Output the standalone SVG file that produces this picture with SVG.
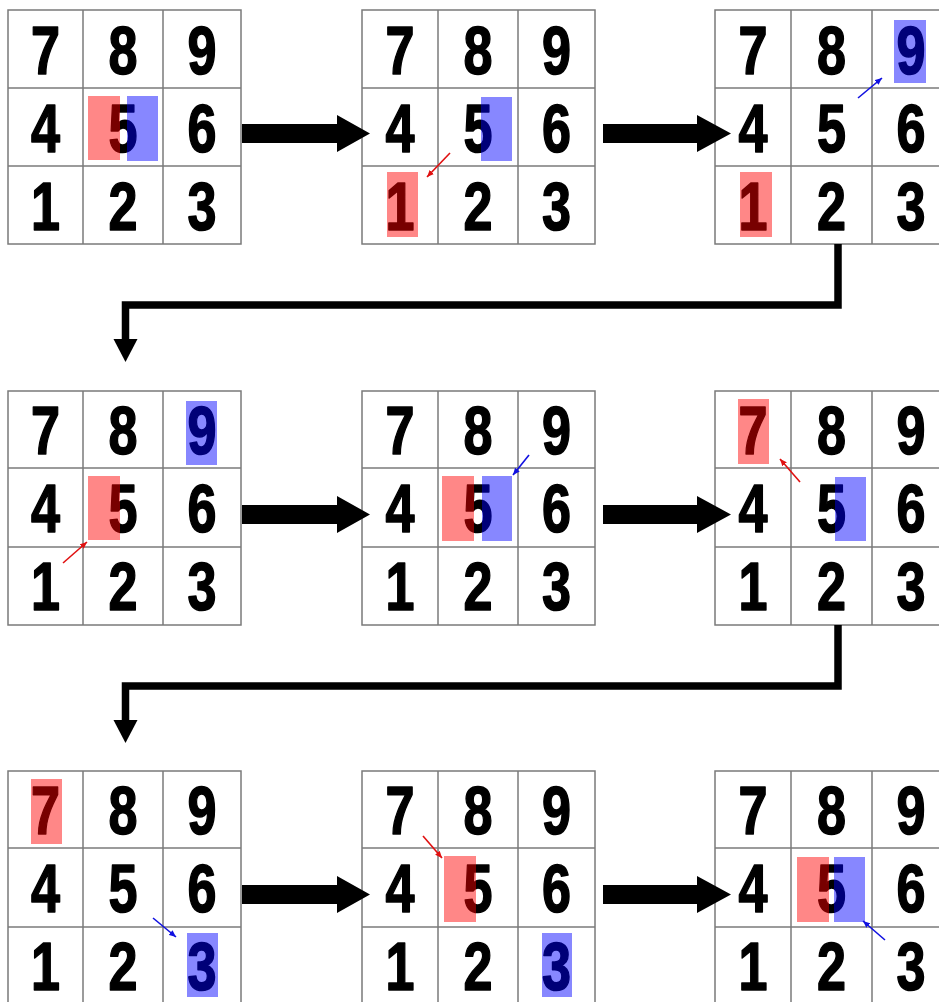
<svg xmlns="http://www.w3.org/2000/svg" width="939" height="1002" viewBox="0 0 939 1002">
<style>
.bg{fill:#fff}
.frame{fill:#fff;stroke:#7a7a7a;stroke-width:1.5}
.ln{stroke:#7a7a7a;stroke-width:1.5}
.d{font-family:"Liberation Sans",Arial,sans-serif;font-weight:bold;font-size:68px;text-anchor:middle;fill:#000;stroke:#000;stroke-width:1.6;stroke-linejoin:round}
.r{fill:#ff0000;opacity:0.47}
.b{fill:#0000ff;opacity:0.47}
.ra{stroke:#e01010;stroke-width:1.6;fill:none;marker-end:url(#mr)}
.ba{stroke:#1010e0;stroke-width:1.6;fill:none;marker-end:url(#mb)}
.blk{fill:#000}
.elb{fill:none;stroke:#000;stroke-width:7.5;stroke-linejoin:miter}
</style>
<defs>
<marker id="mr" markerUnits="userSpaceOnUse" markerWidth="7" markerHeight="6" refX="7" refY="3" orient="auto"><path d="M0,0 L7,3 L0,6 z" fill="#e01010"/></marker>
<marker id="mb" markerUnits="userSpaceOnUse" markerWidth="7" markerHeight="6" refX="7" refY="3" orient="auto"><path d="M0,0 L7,3 L0,6 z" fill="#1010e0"/></marker>
</defs>
<rect class="bg" x="0" y="0" width="939" height="1002"/>

<g id="grid1">
<rect class="frame" x="8" y="10" width="233" height="234"/>
<line class="ln" x1="83" y1="10" x2="83" y2="244"/><line class="ln" x1="163" y1="10" x2="163" y2="244"/>
<line class="ln" x1="8" y1="88" x2="241" y2="88"/><line class="ln" x1="8" y1="166" x2="241" y2="166"/>
<text class="d" x="45.5" y="74" textLength="29" lengthAdjust="spacingAndGlyphs">7</text>
<text class="d" x="123" y="74" textLength="29" lengthAdjust="spacingAndGlyphs">8</text>
<text class="d" x="202" y="74" textLength="29" lengthAdjust="spacingAndGlyphs">9</text>
<text class="d" x="45.5" y="152" textLength="29" lengthAdjust="spacingAndGlyphs">4</text>
<text class="d" x="123" y="152" textLength="29" lengthAdjust="spacingAndGlyphs">5</text>
<text class="d" x="202" y="152" textLength="29" lengthAdjust="spacingAndGlyphs">6</text>
<text class="d" x="45.5" y="230" textLength="29" lengthAdjust="spacingAndGlyphs">1</text>
<text class="d" x="123" y="230" textLength="29" lengthAdjust="spacingAndGlyphs">2</text>
<text class="d" x="202" y="230" textLength="29" lengthAdjust="spacingAndGlyphs">3</text>
<rect class="r" x="88" y="96" width="32" height="64"/>
<rect class="b" x="127" y="96" width="31" height="65"/>
</g>

<g id="grid2">
<rect class="frame" x="362" y="10" width="233" height="234"/>
<line class="ln" x1="438" y1="10" x2="438" y2="244"/><line class="ln" x1="518" y1="10" x2="518" y2="244"/>
<line class="ln" x1="362" y1="88" x2="595" y2="88"/><line class="ln" x1="362" y1="166" x2="595" y2="166"/>
<text class="d" x="400" y="74" textLength="29" lengthAdjust="spacingAndGlyphs">7</text>
<text class="d" x="478" y="74" textLength="29" lengthAdjust="spacingAndGlyphs">8</text>
<text class="d" x="556.5" y="74" textLength="29" lengthAdjust="spacingAndGlyphs">9</text>
<text class="d" x="400" y="152" textLength="29" lengthAdjust="spacingAndGlyphs">4</text>
<text class="d" x="478" y="152" textLength="29" lengthAdjust="spacingAndGlyphs">5</text>
<text class="d" x="556.5" y="152" textLength="29" lengthAdjust="spacingAndGlyphs">6</text>
<text class="d" x="400" y="230" textLength="29" lengthAdjust="spacingAndGlyphs">1</text>
<text class="d" x="478" y="230" textLength="29" lengthAdjust="spacingAndGlyphs">2</text>
<text class="d" x="556.5" y="230" textLength="29" lengthAdjust="spacingAndGlyphs">3</text>
<rect class="b" x="481" y="97" width="31" height="64"/>
<rect class="r" x="387" y="172" width="31" height="65"/>
<line class="ra" x1="450" y1="153" x2="427" y2="177"/>
</g>

<g id="grid3">
<rect class="frame" x="715" y="10" width="235" height="234"/>
<line class="ln" x1="791" y1="10" x2="791" y2="244"/><line class="ln" x1="872" y1="10" x2="872" y2="244"/>
<line class="ln" x1="715" y1="88" x2="950" y2="88"/><line class="ln" x1="715" y1="166" x2="950" y2="166"/>
<text class="d" x="753" y="74" textLength="29" lengthAdjust="spacingAndGlyphs">7</text>
<text class="d" x="831.5" y="74" textLength="29" lengthAdjust="spacingAndGlyphs">8</text>
<text class="d" x="911" y="74" textLength="29" lengthAdjust="spacingAndGlyphs">9</text>
<text class="d" x="753" y="152" textLength="29" lengthAdjust="spacingAndGlyphs">4</text>
<text class="d" x="831.5" y="152" textLength="29" lengthAdjust="spacingAndGlyphs">5</text>
<text class="d" x="911" y="152" textLength="29" lengthAdjust="spacingAndGlyphs">6</text>
<text class="d" x="753" y="230" textLength="29" lengthAdjust="spacingAndGlyphs">1</text>
<text class="d" x="831.5" y="230" textLength="29" lengthAdjust="spacingAndGlyphs">2</text>
<text class="d" x="911" y="230" textLength="29" lengthAdjust="spacingAndGlyphs">3</text>
<rect class="b" x="894" y="20" width="32" height="63"/>
<rect class="r" x="740" y="172" width="32" height="65"/>
<line class="ba" x1="858" y1="98" x2="882" y2="78"/>
</g>

<g id="grid4">
<rect class="frame" x="8" y="391" width="233" height="234"/>
<line class="ln" x1="83" y1="391" x2="83" y2="625"/><line class="ln" x1="163" y1="391" x2="163" y2="625"/>
<line class="ln" x1="8" y1="468" x2="241" y2="468"/><line class="ln" x1="8" y1="547" x2="241" y2="547"/>
<text class="d" x="45.5" y="454" textLength="29" lengthAdjust="spacingAndGlyphs">7</text>
<text class="d" x="123" y="454" textLength="29" lengthAdjust="spacingAndGlyphs">8</text>
<text class="d" x="202" y="454" textLength="29" lengthAdjust="spacingAndGlyphs">9</text>
<text class="d" x="45.5" y="532" textLength="29" lengthAdjust="spacingAndGlyphs">4</text>
<text class="d" x="123" y="532" textLength="29" lengthAdjust="spacingAndGlyphs">5</text>
<text class="d" x="202" y="532" textLength="29" lengthAdjust="spacingAndGlyphs">6</text>
<text class="d" x="45.5" y="610" textLength="29" lengthAdjust="spacingAndGlyphs">1</text>
<text class="d" x="123" y="610" textLength="29" lengthAdjust="spacingAndGlyphs">2</text>
<text class="d" x="202" y="610" textLength="29" lengthAdjust="spacingAndGlyphs">3</text>
<rect class="b" x="186" y="401" width="31" height="64"/>
<rect class="r" x="88" y="476" width="32" height="64"/>
<line class="ra" x1="63" y1="563" x2="87" y2="542"/>
</g>

<g id="grid5">
<rect class="frame" x="362" y="391" width="233" height="234"/>
<line class="ln" x1="438" y1="391" x2="438" y2="625"/><line class="ln" x1="518" y1="391" x2="518" y2="625"/>
<line class="ln" x1="362" y1="468" x2="595" y2="468"/><line class="ln" x1="362" y1="547" x2="595" y2="547"/>
<text class="d" x="400" y="454" textLength="29" lengthAdjust="spacingAndGlyphs">7</text>
<text class="d" x="478" y="454" textLength="29" lengthAdjust="spacingAndGlyphs">8</text>
<text class="d" x="556.5" y="454" textLength="29" lengthAdjust="spacingAndGlyphs">9</text>
<text class="d" x="400" y="532" textLength="29" lengthAdjust="spacingAndGlyphs">4</text>
<text class="d" x="478" y="532" textLength="29" lengthAdjust="spacingAndGlyphs">5</text>
<text class="d" x="556.5" y="532" textLength="29" lengthAdjust="spacingAndGlyphs">6</text>
<text class="d" x="400" y="610" textLength="29" lengthAdjust="spacingAndGlyphs">1</text>
<text class="d" x="478" y="610" textLength="29" lengthAdjust="spacingAndGlyphs">2</text>
<text class="d" x="556.5" y="610" textLength="29" lengthAdjust="spacingAndGlyphs">3</text>
<rect class="r" x="442" y="476" width="32" height="65"/>
<rect class="b" x="482" y="476" width="30" height="65"/>
<line class="ba" x1="529" y1="455" x2="513" y2="475"/>
</g>

<g id="grid6">
<rect class="frame" x="715" y="391" width="235" height="234"/>
<line class="ln" x1="791" y1="391" x2="791" y2="625"/><line class="ln" x1="872" y1="391" x2="872" y2="625"/>
<line class="ln" x1="715" y1="468" x2="950" y2="468"/><line class="ln" x1="715" y1="547" x2="950" y2="547"/>
<text class="d" x="753" y="454" textLength="29" lengthAdjust="spacingAndGlyphs">7</text>
<text class="d" x="831.5" y="454" textLength="29" lengthAdjust="spacingAndGlyphs">8</text>
<text class="d" x="911" y="454" textLength="29" lengthAdjust="spacingAndGlyphs">9</text>
<text class="d" x="753" y="532" textLength="29" lengthAdjust="spacingAndGlyphs">4</text>
<text class="d" x="831.5" y="532" textLength="29" lengthAdjust="spacingAndGlyphs">5</text>
<text class="d" x="911" y="532" textLength="29" lengthAdjust="spacingAndGlyphs">6</text>
<text class="d" x="753" y="610" textLength="29" lengthAdjust="spacingAndGlyphs">1</text>
<text class="d" x="831.5" y="610" textLength="29" lengthAdjust="spacingAndGlyphs">2</text>
<text class="d" x="911" y="610" textLength="29" lengthAdjust="spacingAndGlyphs">3</text>
<rect class="r" x="738" y="399" width="31" height="65"/>
<rect class="b" x="835" y="477" width="31" height="64"/>
<line class="ra" x1="800" y1="482" x2="780" y2="459"/>
</g>

<g id="grid7">
<rect class="frame" x="8" y="771" width="233" height="234"/>
<line class="ln" x1="83" y1="771" x2="83" y2="1005"/><line class="ln" x1="163" y1="771" x2="163" y2="1005"/>
<line class="ln" x1="8" y1="848" x2="241" y2="848"/><line class="ln" x1="8" y1="927" x2="241" y2="927"/>
<text class="d" x="45.5" y="834" textLength="29" lengthAdjust="spacingAndGlyphs">7</text>
<text class="d" x="123" y="834" textLength="29" lengthAdjust="spacingAndGlyphs">8</text>
<text class="d" x="202" y="834" textLength="29" lengthAdjust="spacingAndGlyphs">9</text>
<text class="d" x="45.5" y="912" textLength="29" lengthAdjust="spacingAndGlyphs">4</text>
<text class="d" x="123" y="912" textLength="29" lengthAdjust="spacingAndGlyphs">5</text>
<text class="d" x="202" y="912" textLength="29" lengthAdjust="spacingAndGlyphs">6</text>
<text class="d" x="45.5" y="990" textLength="29" lengthAdjust="spacingAndGlyphs">1</text>
<text class="d" x="123" y="990" textLength="29" lengthAdjust="spacingAndGlyphs">2</text>
<text class="d" x="202" y="990" textLength="29" lengthAdjust="spacingAndGlyphs">3</text>
<rect class="r" x="31" y="779" width="31" height="65"/>
<rect class="b" x="187" y="933" width="31" height="64"/>
<line class="ba" x1="153" y1="918" x2="176" y2="937"/>
</g>

<g id="grid8">
<rect class="frame" x="362" y="771" width="233" height="234"/>
<line class="ln" x1="438" y1="771" x2="438" y2="1005"/><line class="ln" x1="518" y1="771" x2="518" y2="1005"/>
<line class="ln" x1="362" y1="848" x2="595" y2="848"/><line class="ln" x1="362" y1="927" x2="595" y2="927"/>
<text class="d" x="400" y="834" textLength="29" lengthAdjust="spacingAndGlyphs">7</text>
<text class="d" x="478" y="834" textLength="29" lengthAdjust="spacingAndGlyphs">8</text>
<text class="d" x="556.5" y="834" textLength="29" lengthAdjust="spacingAndGlyphs">9</text>
<text class="d" x="400" y="912" textLength="29" lengthAdjust="spacingAndGlyphs">4</text>
<text class="d" x="478" y="912" textLength="29" lengthAdjust="spacingAndGlyphs">5</text>
<text class="d" x="556.5" y="912" textLength="29" lengthAdjust="spacingAndGlyphs">6</text>
<text class="d" x="400" y="990" textLength="29" lengthAdjust="spacingAndGlyphs">1</text>
<text class="d" x="478" y="990" textLength="29" lengthAdjust="spacingAndGlyphs">2</text>
<text class="d" x="556.5" y="990" textLength="29" lengthAdjust="spacingAndGlyphs">3</text>
<rect class="r" x="444" y="856" width="32" height="66"/>
<rect class="b" x="542" y="933" width="30" height="64"/>
<line class="ra" x1="423" y1="836" x2="442" y2="858"/>
</g>

<g id="grid9">
<rect class="frame" x="715" y="771" width="235" height="234"/>
<line class="ln" x1="791" y1="771" x2="791" y2="1005"/><line class="ln" x1="872" y1="771" x2="872" y2="1005"/>
<line class="ln" x1="715" y1="848" x2="950" y2="848"/><line class="ln" x1="715" y1="927" x2="950" y2="927"/>
<text class="d" x="753" y="834" textLength="29" lengthAdjust="spacingAndGlyphs">7</text>
<text class="d" x="831.5" y="834" textLength="29" lengthAdjust="spacingAndGlyphs">8</text>
<text class="d" x="911" y="834" textLength="29" lengthAdjust="spacingAndGlyphs">9</text>
<text class="d" x="753" y="912" textLength="29" lengthAdjust="spacingAndGlyphs">4</text>
<text class="d" x="831.5" y="912" textLength="29" lengthAdjust="spacingAndGlyphs">5</text>
<text class="d" x="911" y="912" textLength="29" lengthAdjust="spacingAndGlyphs">6</text>
<text class="d" x="753" y="990" textLength="29" lengthAdjust="spacingAndGlyphs">1</text>
<text class="d" x="831.5" y="990" textLength="29" lengthAdjust="spacingAndGlyphs">2</text>
<text class="d" x="911" y="990" textLength="29" lengthAdjust="spacingAndGlyphs">3</text>
<rect class="r" x="797" y="857" width="32" height="65"/>
<rect class="b" x="834" y="857" width="31" height="65"/>
<line class="ba" x1="885" y1="940" x2="863" y2="921"/>
</g>

<g id="connectors">
<polygon class="blk" points="242,124 337,124 337,115 370,133.5 337,152 337,143 242,143"/>
<polygon class="blk" points="603,124 697,124 697,115 731,133.5 697,152 697,143 603,143"/>
<polygon class="blk" points="242,505 337,505 337,496 370,514.5 337,533 337,524 242,524"/>
<polygon class="blk" points="603,505 697,505 697,496 731,514.5 697,533 697,524 603,524"/>
<polygon class="blk" points="242,885 337,885 337,876 370,894.5 337,913 337,904 242,904"/>
<polygon class="blk" points="603,885 697,885 697,876 731,894.5 697,913 697,904 603,904"/>
<path class="elb" d="M838,244 V305 H125.5 V341"/>
<polygon class="blk" points="113.5,339 137.5,339 125.5,362"/>
<path class="elb" d="M838,625 V686 H125.5 V722"/>
<polygon class="blk" points="113.5,720 137.5,720 125.5,743"/>
</g>
</svg>
